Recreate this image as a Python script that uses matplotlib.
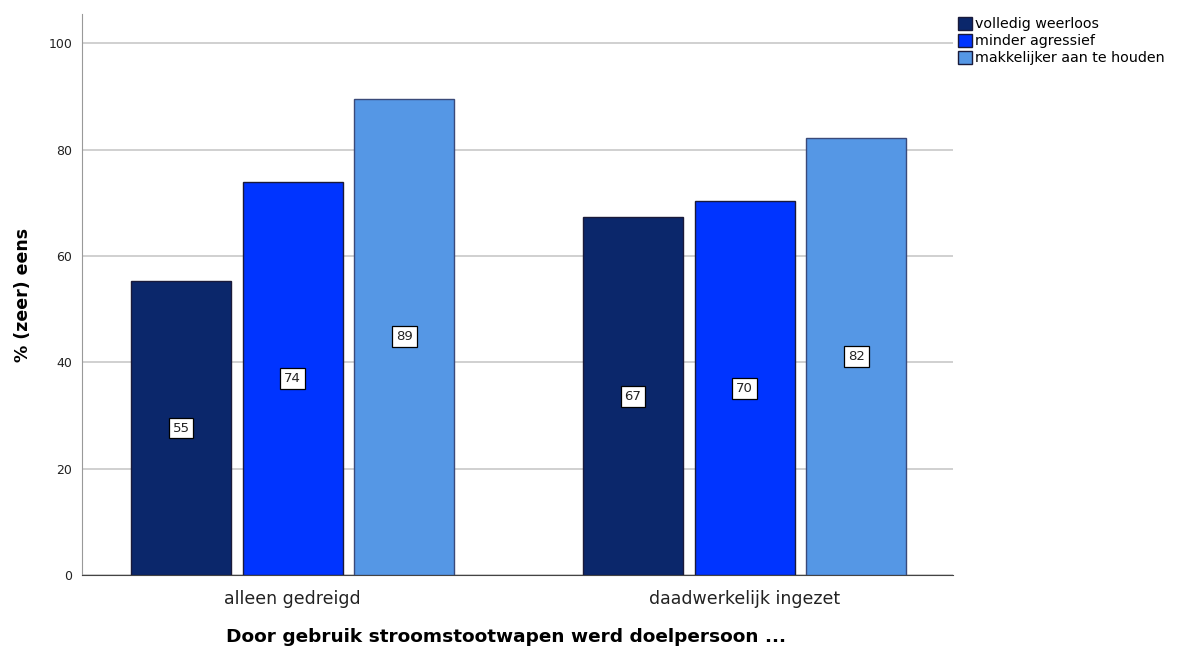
import numpy as np
import matplotlib.pyplot as plt
from matplotlib.patches import Patch

plt.rcParams['font.family'] = ['DejaVu Sans']

# data
groups = ['alleen gedreigd', 'daadwerkelijk ingezet']
series = ['volledig weerloos', 'minder agressief', 'makkelijker aan te houden']
values = [
    [55.3, 67.3],   # volledig weerloos
    [73.9, 70.3],   # minder agressief
    [89.6, 82.3],   # makkelijker aan te houden
]
labels = [['55', '67'], ['74', '70'], ['89', '82']]
colors = ['#0b276b', '#0034ff', '#5597e5']
edges = ['#1a1a3a', '#1a1a3a', '#3a4a7a']

fig = plt.figure(figsize=(11.77, 6.48), dpi=100)
ax = fig.add_axes([0.0697, 0.1127, 0.74, 0.8653])

x = np.arange(len(groups))
w = 0.221
step = 0.247
for i, (vals, c) in enumerate(zip(values, colors)):
    xs = x + (i - 1) * step
    ax.bar(xs, vals, width=w, color=c, edgecolor=edges[i], linewidth=1, zorder=3)
    for xi, v, lab in zip(xs, vals, labels[i]):
        ax.text(xi, v / 2, lab, ha='center', va='center', fontsize=9.5, zorder=4,
                color='#222222',
                bbox=dict(boxstyle='square,pad=0.3', fc='white', ec='black', lw=0.9))

ax.set_xlim(-0.466, 1.461)
ax.set_ylim(0, 105.5)
ax.set_yticks([0, 20, 40, 60, 80, 100])
ax.set_xticks(x)
ax.set_xticklabels(groups, fontsize=12.5, color='#222222')
ax.tick_params(axis='y', labelsize=9, length=0, pad=7, colors='#222222')
ax.tick_params(axis='x', length=0, pad=11)
ax.yaxis.grid(True, color='#c8c8c8', linewidth=1.2, zorder=0)
ax.set_axisbelow(True)
for s in ['top', 'right']:
    ax.spines[s].set_visible(False)
ax.spines['left'].set_color('#999999')
ax.spines['bottom'].set_color('#444444')

ax.set_ylabel('% (zeer) eens', fontsize=12.5, fontweight='bold', labelpad=12)
fig.text(506 / 1177, 1 - 637 / 648,
         'Door gebruik stroomstootwapen werd doelpersoon ...', fontsize=13.3,
         fontweight='bold', ha='center', va='center')

handles = [Patch(facecolor=c, edgecolor='#1a1a3a', label=s) for c, s in zip(colors, series)]
fig.legend(handles=handles, loc='upper left', bbox_to_anchor=(0.809, 0.983), frameon=False,
           fontsize=10.3, handlelength=1.0, handleheight=1.0, handletextpad=0.2,
           labelspacing=0.2, borderaxespad=0)

fig.savefig('out.png', dpi=100)
